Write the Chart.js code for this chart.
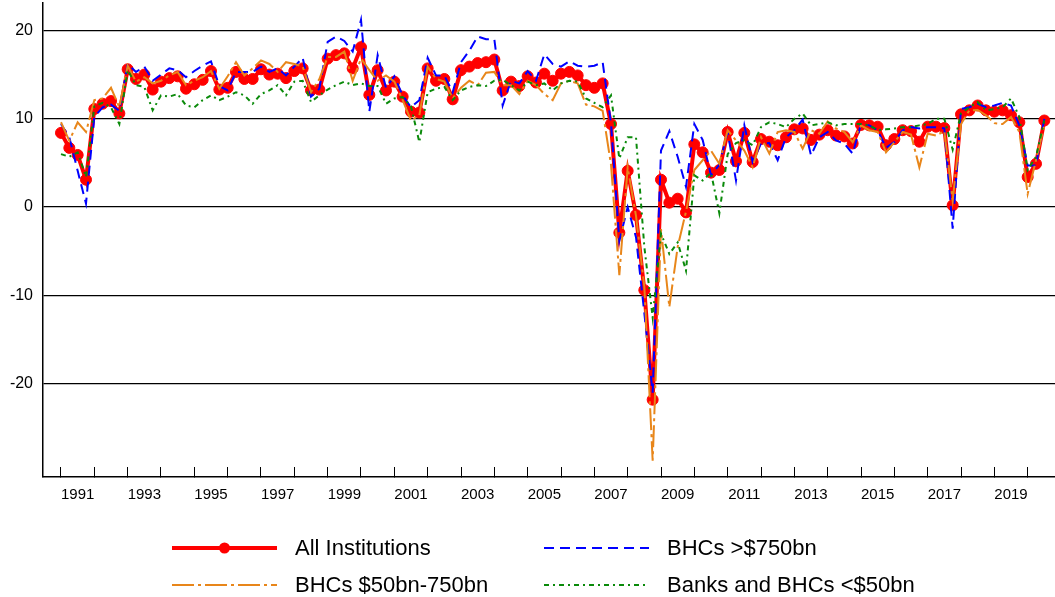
<!DOCTYPE html>
<html>
<head>
<meta charset="utf-8">
<script src="https://cdn.jsdelivr.net/npm/chart.js@4.4.1/dist/chart.umd.min.js"></script>
<style>
  html, body { margin: 0; padding: 0; background: #fff; }
  #wrap { position: relative; width: 1055px; height: 597px; }
  #legend { position: absolute; left: 0; top: 0; width: 1055px; height: 597px; pointer-events: none;
            font-family: "Liberation Sans", Arial, sans-serif; font-size: 22px; color: #000; }
  .item { position: absolute; height: 24px; display: flex; align-items: center; white-space: nowrap; }
  .item svg { margin-right: 18px; }
</style>
</head>
<body>
<div id="wrap">
  <canvas id="chart" width="1055" height="597"></canvas>
  <div id="legend"></div>
</div>
<script>
// quarterly series, 1991Q1 .. 2020Q3
const startYear = 1991;

const allInstitutions = [
  8.4, 6.7, 5.9, 3.1, 11.1, 11.7, 12.0, 10.6, 15.6, 14.5, 15.0, 13.3,
  14.2, 14.6, 14.8, 13.4, 13.9, 14.4, 15.4, 13.3, 13.5, 15.3, 14.5, 14.5,
  15.6, 15.0, 15.1, 14.6, 15.4, 15.7, 13.2, 13.3, 16.8, 17.2, 17.4, 15.7,
  18.1, 12.7, 15.5, 13.2, 14.2, 12.5, 10.8, 10.7, 15.7, 14.3, 14.5, 12.2,
  15.5, 15.9, 16.3, 16.4, 16.7, 13.2, 14.2, 13.7, 14.8, 14.1, 15.1, 14.3,
  15.1, 15.3, 14.9, 13.8, 13.5, 14.0, 9.4, -2.9, 4.1, -0.9, -9.4, -21.8,
  3.1, 0.5, 0.95, -0.6, 7.1, 6.2, 3.9, 4.2, 8.5, 5.2, 8.4, 5.1,
  7.7, 7.4, 7.0, 7.9, 8.8, 8.9, 7.6, 8.2, 8.7, 8.1, 8.0, 7.2,
  9.3, 9.25, 9.1, 7.0, 7.7, 8.7, 8.6, 7.4, 9.1, 9.1, 8.95, 0.2,
  10.5, 10.95, 11.5, 10.95, 10.8, 10.95, 10.4, 9.6, 3.4, 4.9, 9.8
];

const bhcsOver750 = [
  9.4, 7.9, 4.1, 0.4, 10.2, 11.3, 11.6, 10.9, 16.2, 15.3, 15.9, 14.3,
  15.0, 15.7, 15.5, 14.7, 15.4, 16.0, 16.5, 13.7, 13.2, 15.3, 15.3, 15.3,
  15.9, 15.3, 15.7, 14.9, 15.9, 16.9, 12.5, 13.4, 18.7, 19.3, 18.8, 17.6,
  21.2, 10.8, 17.2, 13.5, 14.8, 12.65, 11.3, 12.1, 16.9, 14.9, 14.9, 13.0,
  16.4, 17.7, 19.3, 19.0, 19.0, 11.5, 14.3, 14.0, 15.4, 14.3, 17.3, 16.2,
  15.9, 16.5, 16.0, 15.9, 16.0, 16.4, 9.5, -3.8, 0.0, -3.4, -12.0, -21.0,
  6.4, 8.6, 5.7, 2.3, 9.4, 7.6, 3.6, 4.8, 8.5, 3.0, 9.25, 5.1,
  7.2, 7.25, 5.3, 7.9, 8.7, 9.9, 5.85, 7.9, 8.5, 7.55, 7.2, 6.05,
  9.4, 9.25, 8.7, 6.7, 7.35, 8.7, 9.05, 8.9, 9.05, 9.05, 8.9, -2.45,
  11.1, 11.3, 11.7, 11.3, 11.5, 11.8, 11.5, 9.25, 4.7, 4.7, 10.0
];

const bhcs50to750 = [
  9.6, 7.5, 9.6, 8.5, 12.1, 12.3, 13.5, 11.3, 16.0, 14.2, 14.7, 14.0,
  14.3, 14.9, 15.3, 13.8, 14.3, 14.7, 15.4, 13.4, 14.8, 16.4, 14.9, 15.7,
  16.6, 16.2, 15.3, 16.4, 16.2, 15.9, 13.0, 14.5, 17.0, 17.0, 17.6, 14.3,
  16.8, 15.5, 14.3, 14.9, 14.2, 12.1, 9.8, 10.4, 15.9, 14.5, 14.2, 12.3,
  13.5, 14.3, 13.8, 15.2, 15.3, 13.8, 13.8, 12.8, 14.3, 13.8, 12.8, 12.1,
  14.0, 14.3, 14.0, 11.6, 11.4, 10.9, 4.8, -7.7, 4.5, -1.0, -9.0, -28.7,
  -2.5, -11.3, -4.5, -0.5, 4.2, 5.3, 6.4, 4.9, 8.7, 7.55, 6.4, 4.5,
  7.9, 6.05, 8.5, 8.7, 8.5, 6.6, 8.7, 8.3, 9.7, 8.9, 8.5, 7.35,
  9.25, 8.7, 8.5, 6.2, 7.35, 8.5, 8.2, 4.5, 8.3, 8.1, 8.6, 0.75,
  9.4, 10.95, 11.0, 10.4, 9.5, 9.4, 10.2, 8.5, 1.5, 5.3, 9.25
];

const banksUnder50 = [
  6.0, 5.7, 6.2, 3.4, 11.4, 11.8, 11.3, 9.4, 15.5, 13.8, 13.6, 10.95,
  12.65, 12.5, 12.8, 11.5, 11.3, 12.1, 12.65, 12.1, 12.5, 13.0, 12.65, 11.7,
  12.8, 13.2, 13.8, 12.65, 14.2, 14.3, 11.9, 12.65, 13.3, 13.8, 14.2, 13.8,
  14.0, 13.7, 13.7, 11.7, 12.3, 12.45, 11.4, 7.35, 13.0, 13.4, 13.6, 12.1,
  13.2, 13.6, 13.8, 13.7, 14.3, 14.4, 13.8, 13.2, 14.2, 13.8, 14.0, 13.2,
  14.0, 14.3, 14.2, 12.3, 11.8, 11.3, 12.65, 5.5, 7.9, 7.9, -4.5, -12.5,
  -3.0, -5.3, -4.0, -7.2, 3.6, 3.0, 3.9, -0.7, 6.0, 7.25, 7.55, 7.0,
  9.05, 9.6, 9.4, 9.05, 10.0, 10.6, 9.25, 9.4, 9.6, 9.25, 9.4, 9.4,
  9.4, 9.25, 8.7, 8.8, 8.9, 9.05, 9.05, 9.25, 9.4, 10.0, 10.0, 6.5,
  10.6, 11.3, 11.9, 10.95, 11.1, 11.3, 12.3, 10.2, 4.2, 5.7, 9.8
];

const seriesNames = ['All Institutions', 'BHCs >$750bn', 'BHCs $50bn-750bn', 'Banks and BHCs <$50bn'];
const yTicks = [-20, -10, 0, 10, 20];

function toPoints(values) {
  return values.map((v, i) => ({ x: startYear + i / 4, y: v }));
}

const font = '"Liberation Sans", Arial, sans-serif';

const datasets = [
  { label: seriesNames[0], data: toPoints(allInstitutions), borderColor: '#ff0000', backgroundColor: '#ff0000',
    borderWidth: 4, pointRadius: 5.5, pointBorderWidth: 1, pointBackgroundColor: '#ff0000', pointBorderColor: '#ff0000',
    borderDash: [], order: 4 },
  { label: seriesNames[1], data: toPoints(bhcsOver750), borderColor: '#0000ff', borderWidth: 2,
    borderDash: [10, 6], pointRadius: 0, order: 3 },
  { label: seriesNames[2], data: toPoints(bhcs50to750), borderColor: '#e8861a', borderWidth: 2,
    borderDash: [22, 4, 3, 4], pointRadius: 0, order: 2 },
  { label: seriesNames[3], data: toPoints(banksUnder50), borderColor: '#0a8a0a', borderWidth: 2,
    borderDash: [5, 4, 2, 4], pointRadius: 0, order: 1 }
];

new Chart(document.getElementById('chart'), {
  type: 'line',
  data: { datasets },
  options: {
    responsive: false,
    animation: false,
    layout: { autoPadding: false, padding: { top: 3, right: 0, bottom: 90, left: 0 } },
    elements: { line: { tension: 0 } },
    plugins: { legend: { display: false }, tooltip: { enabled: false } },
    scales: {
      x: {
        type: 'linear', min: 1990.46, max: 2020.82,
        afterFit: s => { s.height = 30; s.paddingLeft = 0; s.paddingRight = 0; },
        border: { display: true, color: '#000', width: 1.5 },
        grid: { drawOnChartArea: false, drawTicks: true, tickLength: -10, color: '#000', lineWidth: 1 },
        ticks: {
          stepSize: 1, includeBounds: false, autoSkip: false, maxRotation: 0, minRotation: 0,
          padding: 19, labelOffset: 16.67, color: '#000', font: { family: font, size: 15 },
          callback: v => (v % 2 === 1 ? String(v) : '')
        }
      },
      y: {
        min: -30.55, max: 23.1,
        afterFit: s => { s.width = 43; s.paddingTop = 0; s.paddingBottom = 0; },
        border: { display: true, color: '#000', width: 1.5 },
        grid: { drawTicks: false, color: '#000', lineWidth: 1.2 },
        ticks: {
          stepSize: 10, includeBounds: false, padding: 10, color: '#000', font: { family: font, size: 16 },
          callback: v => (yTicks.includes(v) ? String(v) : null)
        }
      }
    }
  }
});

// legend laid out as a 2x2 grid under the chart
const legendPos = [[172, 536], [544, 536], [172, 573], [544, 573]];
const legendEl = document.getElementById('legend');
datasets.forEach((ds, i) => {
  const item = document.createElement('div');
  item.className = 'item';
  item.style.left = legendPos[i][0] + 'px';
  item.style.top = legendPos[i][1] + 'px';
  const dash = ds.borderDash.length ? ` stroke-dasharray="${ds.borderDash.join(' ')}"` : '';
  const marker = ds.pointRadius ? `<circle cx="52.5" cy="12" r="5.5" fill="${ds.borderColor}"/>` : '';
  item.innerHTML = `<svg width="105" height="24"><line x1="0" y1="12" x2="105" y2="12" stroke="${ds.borderColor}" stroke-width="${ds.borderWidth}"${dash}/>${marker}</svg><span>${ds.label.replace('<', '&lt;').replace('>', '&gt;')}</span>`;
  legendEl.appendChild(item);
});
</script>
</body>
</html>
